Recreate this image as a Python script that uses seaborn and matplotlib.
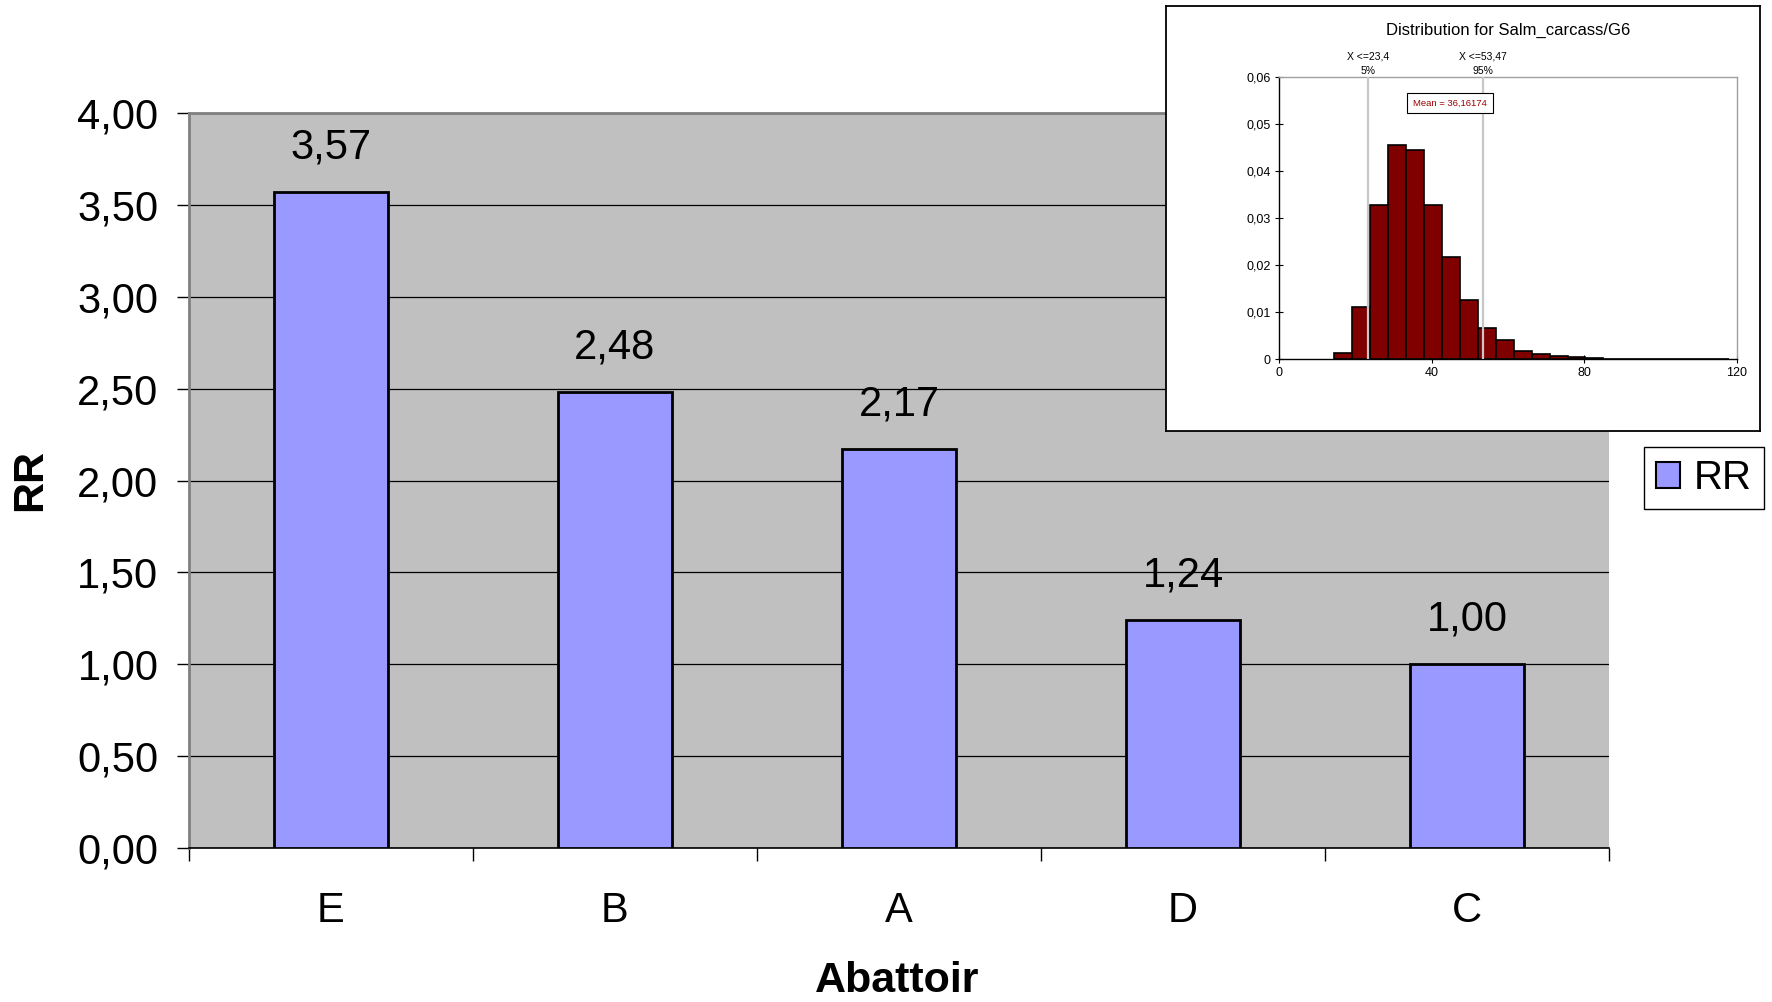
import matplotlib
matplotlib.use("Agg")
import matplotlib.pyplot as plt
import seaborn as sns
import numpy as np
from matplotlib import font_manager
from matplotlib.patches import Patch

# ---------------- data ----------------
categories = ["E", "B", "A", "D", "C"]
rr_values = [3.57, 2.48, 2.17, 1.24, 1.00]
y_ticks = [0.0, 0.5, 1.0, 1.5, 2.0, 2.5, 3.0, 3.5, 4.0]

hist_edges = [14.5, 19.2, 23.9, 28.6, 33.3, 38.0, 42.7, 47.4, 52.1, 56.8, 61.5,
              66.2, 70.9, 75.6, 80.3, 85.0, 89.7, 94.4, 99.1, 103.8, 108.5, 113.2, 117.9]
hist_heights = [0.0013, 0.0111, 0.0327, 0.0456, 0.0444, 0.0327, 0.0216, 0.0126,
                0.0066, 0.0041, 0.0018, 0.0011, 0.0006, 0.0004, 0.0002, 0.0001,
                0.0001, 0.0001, 0.00005, 0.00005, 0.00003, 0.00003]
p5, p95 = 23.4, 53.47
mean_val = "36,16174"
inset_yticks = [0, 0.01, 0.02, 0.03, 0.04, 0.05, 0.06]
inset_xticks = [0, 40, 80, 120]

# ---------------- style ----------------
sns.set_theme(style="white")
plt.rcParams["font.family"] = ["Liberation Sans", "DejaVu Sans"]
for k in ["text.color", "axes.labelcolor", "xtick.color", "ytick.color"]:
    plt.rcParams[k] = "black"
names = {f.name for f in font_manager.fontManager.ttflist}
narrow = ["Liberation Sans Narrow", "Liberation Sans"] if "Liberation Sans Narrow" in names else ["Liberation Sans"]

fig = plt.figure(figsize=(17.72, 10.02), dpi=100)
W, H = 1772, 1002

def fx(px):
    return px / W

def fy(py):
    return 1 - py / H

# main axes
left, right, top, bottom = 189, 1609, 113, 848
ax = fig.add_axes([fx(left), fy(bottom), fx(right) - fx(left), fy(top) - fy(bottom)])
ax.set_facecolor("#C0C0C0")

sns.barplot(x=categories, y=rr_values, color="#9999FF", edgecolor="black",
            linewidth=2.0, width=0.4, saturation=1, ax=ax, zorder=3)

ax.set_ylim(0, 4.0)
ax.set_xlim(-0.5, 4.5)
ax.set_yticks(y_ticks)
ax.set_yticklabels([f"{v:.2f}".replace(".", ",") for v in y_ticks], fontsize=30)
ax.yaxis.grid(True, color="black", linewidth=0.9, zorder=1)
ax.set_axisbelow(True)

# x ticks: marks at boundaries, labels at centers
ax.set_xticks(np.arange(-0.5, 5.0, 1.0))
ax.set_xticklabels([])
ax.set_xticks(range(len(categories)), minor=True)
ax.set_xticklabels(categories, minor=True, fontsize=30)
ax.tick_params(axis="x", which="major", direction="out", length=9, width=1, color="black", bottom=True)
ax.tick_params(axis="x", which="minor", length=0, pad=31)
ax.tick_params(axis="y", direction="out", length=9, width=1, color="black", pad=13, left=True)

for s in ["top", "left"]:
    ax.spines[s].set_color("#808080")
    ax.spines[s].set_linewidth(2)
ax.spines["right"].set_visible(False)
ax.spines["bottom"].set_color("black")
ax.spines["bottom"].set_linewidth(1.2)

ax.bar_label(ax.containers[0], labels=[f"{v:.2f}".replace(".", ",") for v in rr_values],
             padding=18, fontsize=30)

ax.set_xlabel("Abattoir", fontsize=31, fontweight="bold")
ax.xaxis.set_label_coords((897 - left) / (right - left), (bottom - 981) / (bottom - top))
ax.xaxis.label.set_va("center")
ax.set_ylabel("RR", fontsize=31, fontweight="bold")
ax.yaxis.set_label_coords((30 - left) / (right - left), (bottom - 480) / (bottom - top))
ax.yaxis.label.set_va("center")

# legend
fig.legend(handles=[Patch(facecolor="#9999FF", edgecolor="black", linewidth=1.5)], labels=["RR"],
           loc="center", bbox_to_anchor=(fx(1704), fy(478)), fontsize=29, frameon=True,
           fancybox=False, edgecolor="black", handlelength=0.6, handleheight=0.6,
           handletextpad=0.35, borderpad=0.3, framealpha=1)

# inset frame
box = fig.add_axes([fx(1166), fy(431), fx(1760) - fx(1166), fy(6) - fy(431)], zorder=5)
box.set_facecolor("white")
box.set_xticks([]); box.set_yticks([])
for s in box.spines.values():
    s.set_color("black"); s.set_linewidth(1.3)

# inset histogram
ia = fig.add_axes([fx(1279), fy(359), fx(1737) - fx(1279), fy(77) - fy(359)], zorder=6)
ia.set_facecolor("white")
centers = [(a + b) / 2 for a, b in zip(hist_edges[:-1], hist_edges[1:])]
sns.histplot(x=centers, weights=hist_heights, bins=hist_edges, ax=ia, color="#800000",
             edgecolor="black", linewidth=1.2, alpha=1, zorder=3)
ia.set_xlim(0, 120)
ia.set_ylim(0, 0.06)
ia.set_xticks(inset_xticks)
ia.set_xticklabels([str(v) for v in inset_xticks], fontsize=9, family=narrow)
ia.set_yticks(inset_yticks)
ia.set_yticklabels(["0" if v == 0 else f"{v:.2f}".replace(".", ",") for v in inset_yticks],
                   fontsize=9, family=narrow)
ia.tick_params(axis="both", direction="inout", length=6, width=0.8, color="black", pad=3,
               left=True, bottom=True)
ia.set_xlabel(""); ia.set_ylabel("")
for s in ["top", "right"]:
    ia.spines[s].set_color("#A0A0A0"); ia.spines[s].set_linewidth(1)
for s in ["left", "bottom"]:
    ia.spines[s].set_color("black"); ia.spines[s].set_linewidth(1)

for xv, lab, pct in [(p5, "X <=23,4", "5%"), (p95, "X <=53,47", "95%")]:
    ia.axvline(xv, color="#C8C8C8", linewidth=1.6, zorder=4)
    ia.text(xv, 0.0643, lab, ha="center", va="center", fontsize=7.5, family=narrow, clip_on=False)
    ia.text(xv, 0.0613, pct, ha="center", va="center", fontsize=7.5, family=narrow, clip_on=False)

ia.text(44.8, 0.0545, f"Mean = {mean_val}", ha="center", va="center", fontsize=6.8,
        color="#A00000", family=narrow, zorder=6,
        bbox=dict(boxstyle="square,pad=0.6", facecolor="white", edgecolor="black", linewidth=0.8))

ia.set_title("Distribution for Salm_carcass/G6", fontsize=12, family=narrow, pad=30)

fig.savefig("out.png", dpi=100)
